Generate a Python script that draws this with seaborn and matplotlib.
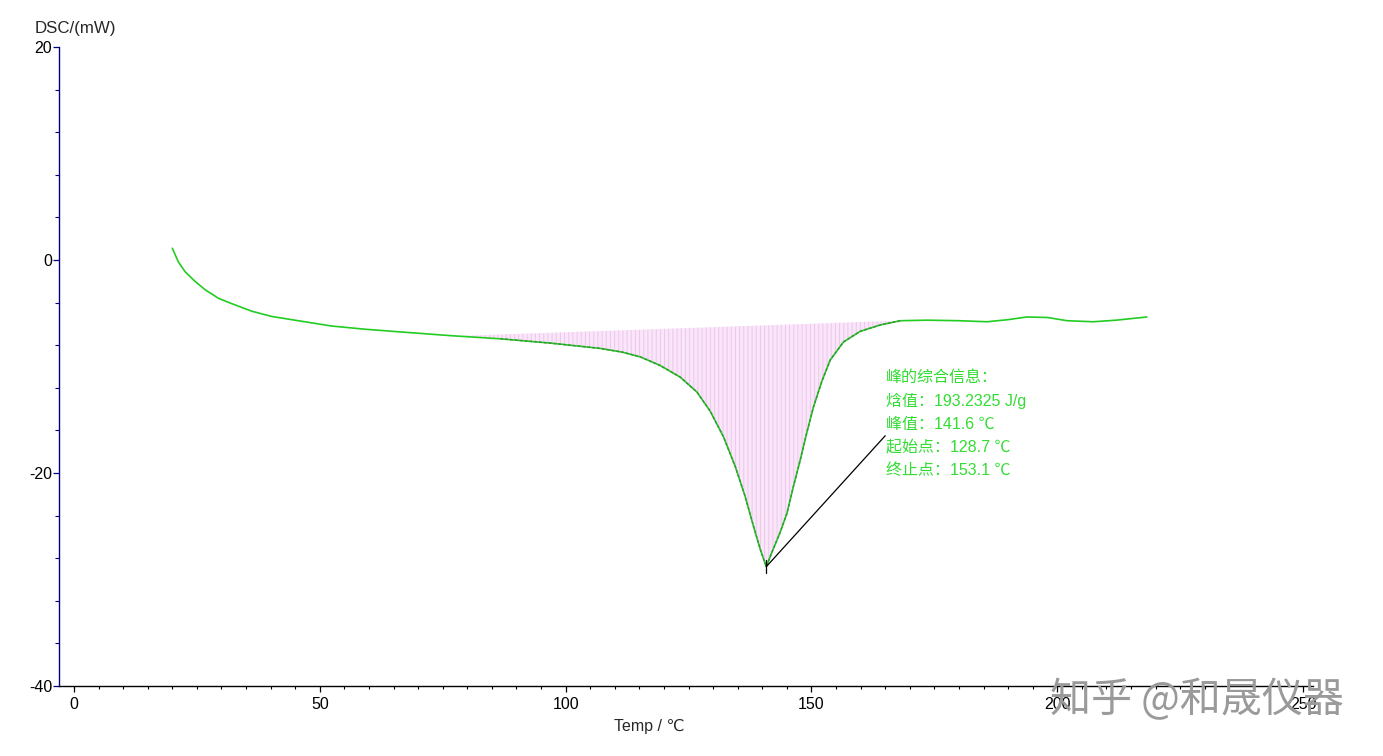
import numpy as np
import pandas as pd
import matplotlib
matplotlib.use("Agg")
import matplotlib.pyplot as plt
import seaborn as sns
from matplotlib.ticker import MultipleLocator

# ---- data ----
temp = [20.0, 21.2, 22.6, 24.6, 26.7, 29.4, 32.1, 36.1, 40.2, 45.6, 52.4, 59.2,
        66.3, 76.5, 86.7, 96.8, 107.0, 111.5, 115.2, 119.2, 123.3, 126.7, 129.4,
        132.1, 134.5, 136.5, 138.2, 139.6, 140.8, 141.9, 143.6, 145.0, 146.3,
        147.7, 149.0, 150.4, 152.1, 153.8, 156.5, 159.9, 164.0, 168.1, 173.5,
        180.0, 185.7, 190.0, 193.8, 198.0, 202.0, 207.3, 212.0, 218.2]
dsc = [1.1, -0.16, -1.1, -2.0, -2.8, -3.6, -4.1, -4.8, -5.3, -5.7, -6.2, -6.5,
       -6.75, -7.1, -7.4, -7.8, -8.3, -8.65, -9.1, -9.9, -11.0, -12.4, -14.2,
       -16.6, -19.4, -22.2, -25.0, -27.2, -28.8, -27.5, -25.6, -23.8, -21.3,
       -18.8, -16.3, -13.8, -11.4, -9.4, -7.7, -6.7, -6.1, -5.7, -5.65,
       -5.7, -5.8, -5.6, -5.35, -5.4, -5.7, -5.8, -5.65, -5.35]

peak_start_x, peak_start_y = 77.0, -7.15
peak_end_x, peak_end_y = 168.1, -5.7
peak_x, peak_y = 140.8, -28.8
leader_end = (165.0, -16.5)

info_lines = ["峰的综合信息：", "焓值：193.2325 J/g", "峰值：141.6 ℃",
              "起始点：128.7 ℃", "终止点：153.1 ℃"]

x_major = [0, 50, 100, 150, 200, 250]
y_major = [20, 0, -20, -40]

df = pd.DataFrame({"temp": temp, "dsc": dsc})

sns.set_theme(style="white")
plt.rcParams['font.family'] = ['Liberation Sans', 'DejaVu Sans']
plt.rcParams['axes.unicode_minus'] = False
plt.rcParams['hatch.linewidth'] = 0.7

fig = plt.figure(figsize=(13.83, 7.56), dpi=100)
ax = fig.add_axes([59/1383, 1-686/756, (1313-59)/1383, (686-47)/756])

green = '#22cc22'
# peak fill (between straight baseline and curve)
t = np.array(temp)
d = np.array(dsc)
mask = (t >= peak_start_x) & (t <= peak_end_x)
xs = np.concatenate([[peak_start_x], t[mask]])
ys = np.concatenate([[peak_start_y], d[mask]])
base = np.interp(xs, [peak_start_x, peak_end_x], [peak_start_y, peak_end_y])
ax.fill_between(xs, ys, base, facecolor='#f9e6f9', edgecolor='#efc4ef',
                hatch='||||', linewidth=0, zorder=1)

sns.lineplot(data=df, x="temp", y="dsc", ax=ax, color=green, linewidth=1.2,
             estimator=None, sort=False, zorder=3)
# dashed dark segment over the peak
ax.plot(xs[1:], ys[1:], color='#3f8f3f', linewidth=1.0,
        linestyle=(0, (2, 1.5)), zorder=4)

# leader line
ax.plot([peak_x, leader_end[0]], [peak_y, leader_end[1]], color='black', linewidth=0.9, zorder=5)
ax.plot([peak_x, peak_x], [peak_y + 0.6, peak_y - 0.6], color='black', linewidth=0.9, zorder=5)

ax.set_xlim(-3.05, 252)
ax.set_ylim(-40, 20)
ax.set_xticks(x_major)
ax.set_yticks(y_major)
ax.xaxis.set_minor_locator(MultipleLocator(5))
ax.yaxis.set_minor_locator(MultipleLocator(4))
ax.tick_params(axis='both', which='major', length=4, width=0.9, labelsize=11.5,
               bottom=True, left=True, labelcolor='black')
ax.tick_params(axis='x', which='major', color='black', pad=4)
ax.tick_params(axis='x', which='minor', length=2.5, width=0.8, bottom=True, color='black')
ax.tick_params(axis='y', which='minor', length=3, width=0.8, left=True, color='#000080')
ax.tick_params(axis='y', which='major', color='#000080', pad=1)
for s in ['top', 'right']:
    ax.spines[s].set_visible(False)
ax.spines['left'].set_color('#000080')
ax.spines['left'].set_linewidth(1.0)
ax.spines['bottom'].set_color('black')
ax.spines['bottom'].set_linewidth(1.0)
ax.set_xlabel("")
ax.set_ylabel("")

fig.text(35/1383, 1-28/756, "DSC/(mW)", fontsize=12.2, va='center', ha='left')
fig.text(614/1383, 1-726/756, "Temp / ℃", fontsize=11.5, va='center', ha='left')

ys_px = [377, 401, 424, 447, 470]
for line, yp in zip(info_lines, ys_px):
    fig.text(886/1383, 1-yp/756, line, fontsize=11.5, color='#33dd33', va='center',
             ha='left', family=['Liberation Sans', 'Noto Sans CJK SC', 'DejaVu Sans'])

fig.text(1050/1383, 1-700/756, "知乎 @和晟仪器", fontsize=29.5, color='#9a9a9a',
         va='center', ha='left', family=['Noto Sans CJK SC', 'DejaVu Sans'], zorder=10)

fig.savefig("out.png", dpi=100, facecolor='white')
